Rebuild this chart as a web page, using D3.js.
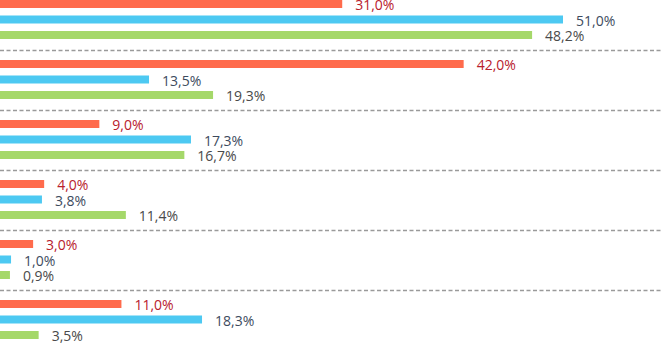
<!DOCTYPE html>
<html>
<head>
<meta charset="utf-8">
<script src="https://cdn.jsdelivr.net/npm/d3@7"></script>
<style>
  html, body { margin: 0; padding: 0; background: #fff; }
  svg { display: block; }
</style>
</head>
<body>
<div id="chart"></div>
<script>
// groups top to bottom, three series each
const groups = ["g1", "g2", "g3", "g4", "g5", "g6"];
const seriesNames = ["s1", "s2", "s3"];
const serie1 = [31.0, 42.0, 9.0, 4.0, 3.0, 11.0];
const serie2 = [51.0, 13.5, 17.3, 3.8, 1.0, 18.3];
const serie3 = [48.2, 19.3, 16.7, 11.4, 0.9, 3.5];

const barColors = ["#ff6b4c", "#4dc9f2", "#a5d86a"];
const labelColors = ["#b8202c", "#3d4b5e", "#4a4a4a"];

const width = 661, height = 343;

const svg = d3.select("#chart").append("svg")
  .attr("width", width)
  .attr("height", height);

// banda por grupo de 60px, barras centradas
const y0 = d3.scaleBand()
  .domain(groups)
  .range([-10.5, 349.5])
  .paddingInner(0)
  .paddingOuter(0);

const y1 = d3.scaleBand()
  .domain(seriesNames)
  .range([10.5, 49.5])
  .paddingInner(0.484)
  .paddingOuter(0);

const x = d3.scaleLinear()
  .domain([0, 51])
  .range([0, 563]);

const fmt = v => d3.format(".1f")(v).replace(".", ",") + "%";

const rows = groups.map((g, i) => ({
  group: g,
  values: [serie1[i], serie2[i], serie3[i]]
}));

// separadores punteados
svg.append("g")
  .selectAll("line")
  .data(groups.slice(1))
  .join("line")
  .attr("x1", 0)
  .attr("x2", width)
  .attr("y1", d => Math.round(y0(d)) + 0.5)
  .attr("y2", d => Math.round(y0(d)) + 0.5)
  .attr("stroke", "#9a9a9a")
  .attr("stroke-width", 1.3)
  .attr("stroke-dasharray", "4,2.5");

const grp = svg.append("g")
  .selectAll("g")
  .data(rows)
  .join("g")
  .attr("transform", d => `translate(0,${y0(d.group)})`);

grp.selectAll("rect")
  .data(d => d.values.map((v, k) => ({ s: seriesNames[k], k, v })))
  .join("rect")
  .attr("x", x(0))
  .attr("y", d => y1(d.s))
  .attr("width", d => x(d.v) - x(0))
  .attr("height", y1.bandwidth())
  .attr("fill", d => barColors[d.k]);

grp.selectAll("text")
  .data(d => d.values.map((v, k) => ({ s: seriesNames[k], k, v })))
  .join("text")
  .attr("x", d => x(d.v) + 13)
  .attr("y", d => y1(d.s) + y1.bandwidth() / 2)
  .attr("dy", "0.46em")
  .attr("fill", d => labelColors[d.k])
  .style("font", "14px 'Open Sans', sans-serif")
  .text(d => fmt(d.v));
</script>
</body>
</html>
